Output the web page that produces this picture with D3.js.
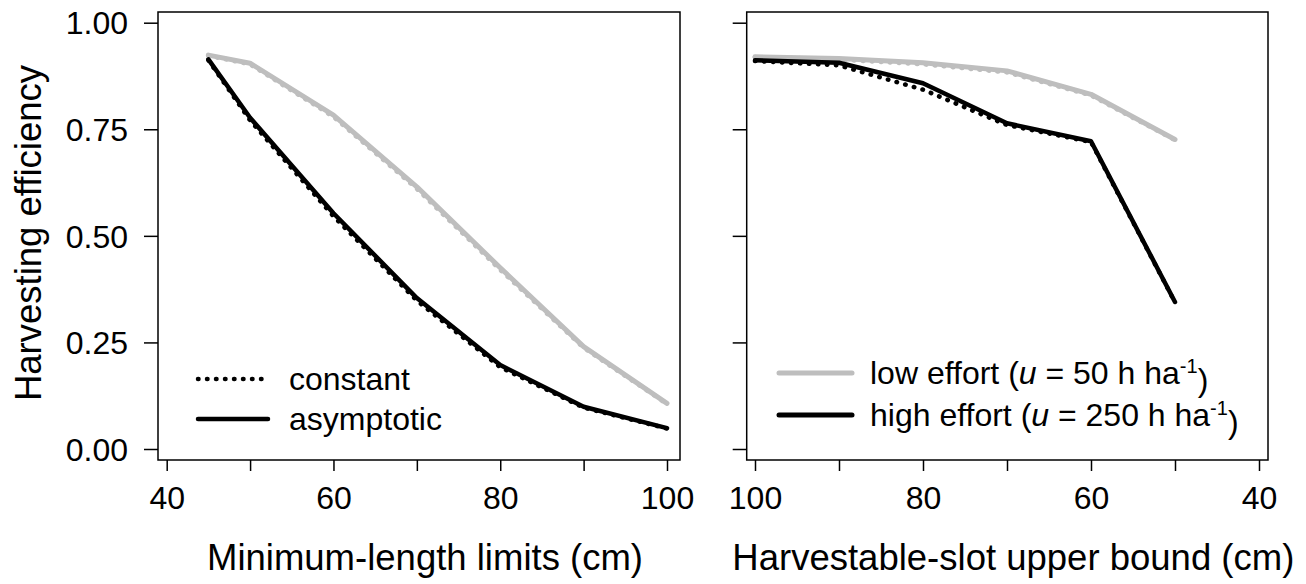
<!DOCTYPE html>
<html><head><meta charset="utf-8">
<script src="https://cdn.jsdelivr.net/npm/d3@7"></script>
<style>
html,body{margin:0;padding:0;background:#fff;}
svg{display:block;}
text{font-family:"Liberation Sans",Arial,sans-serif;fill:#000;}
</style></head>
<body>
<svg id="chart" width="1306" height="584"></svg>
<script>
// ---- data ----
const leftX = [45, 50, 60, 70, 80, 90, 100];
const leftLowAsym   = [0.924, 0.905, 0.783, 0.615, 0.425, 0.240, 0.107];
const leftLowConst  = [0.923, 0.903, 0.780, 0.611, 0.421, 0.238, 0.106];
const leftHighAsym  = [0.914, 0.777, 0.553, 0.354, 0.197, 0.099, 0.049];
const leftHighConst = [0.912, 0.771, 0.546, 0.348, 0.192, 0.097, 0.048];

const rightX = [100, 90, 80, 70, 60, 50];
const rightLowAsym   = [0.920, 0.916, 0.906, 0.887, 0.832, 0.726];
const rightLowConst  = [0.919, 0.914, 0.903, 0.884, 0.830, 0.725];
const rightHighAsym  = [0.912, 0.906, 0.858, 0.764, 0.722, 0.345];
const rightHighConst = [0.910, 0.900, 0.843, 0.760, 0.720, 0.344];

const xTicks = [40, 50, 60, 70, 80, 90, 100];
const xTickLabels = [40, 60, 80, 100];
const yTicks = [0, 0.25, 0.5, 0.75, 1.0];

const yTitle = "Harvesting efficiency";
const leftXTitle = "Minimum-length limits (cm)";
const rightXTitle = "Harvestable-slot upper bound (cm)";

// ---- layout ----
const svg = d3.select("#chart");
const GREY = "#bebebe";
const boxTop = 12, boxBottom = 460;
const y = d3.scaleLinear().domain([0, 1]).range([449, 22.7]);

const panels = [
  {box:[158, 680], x: d3.scaleLinear().domain([40,100]).range([166.7, 667]), xs: leftX,
   series: [
     {v: leftLowConst, c: GREY, dash: true}, {v: leftLowAsym, c: GREY},
     {v: leftHighConst, c: "#000", dash: true}, {v: leftHighAsym, c: "#000"}],
   title: leftXTitle, yLabels: true},
  {box:[746.7, 1268], x: d3.scaleLinear().domain([100,40]).range([755, 1259]), xs: rightX,
   series: [
     {v: rightLowConst, c: GREY, dash: true}, {v: rightLowAsym, c: GREY},
     {v: rightHighConst, c: "#000", dash: true}, {v: rightHighAsym, c: "#000"}],
   title: rightXTitle, yLabels: false}
];

panels.forEach(p => {
  const g = svg.append("g");
  const [bl, br] = p.box;
  const line = d3.line().x((d,i) => p.x(p.xs[i])).y(d => y(d));
  p.series.forEach(s => {
    g.append("path").datum(s.v).attr("d", line)
      .attr("fill", "none").attr("stroke", s.c)
      .attr("stroke-width", s.c === GREY ? 5 : 4.5)
      .attr("stroke-linecap", "round").attr("stroke-linejoin", "round")
      .attr("stroke-dasharray", s.dash ? "0.5,8.5" : null);
  });
  g.append("rect").attr("x", bl).attr("y", boxTop).attr("width", br - bl).attr("height", boxBottom - boxTop)
    .attr("fill", "none").attr("stroke", "#000").attr("stroke-width", 1.5);

  const xa = d3.axisBottom(p.x).tickValues(xTicks).tickSize(11).tickSizeOuter(0)
    .tickFormat(d => xTickLabels.includes(d) ? d : "");
  const gx = g.append("g").attr("transform", `translate(0,${boxBottom})`).call(xa);
  gx.select(".domain").remove();
  gx.selectAll(".tick line").attr("stroke", "#000").attr("stroke-width", 1.5);
  gx.selectAll(".tick text").attr("y", 38).attr("dy", "0.35em")
    .style("font-size", "32px").attr("fill", "#000");

  const ya = d3.axisLeft(y).tickValues(yTicks).tickSize(14).tickSizeOuter(0)
    .tickFormat(d => p.yLabels ? d3.format(".2f")(d) : "");
  const gy = g.append("g").attr("transform", `translate(${bl},0)`).call(ya);
  gy.select(".domain").remove();
  gy.selectAll(".tick line").attr("stroke", "#000").attr("stroke-width", 1.5);
  gy.selectAll(".tick text").attr("x", -30).attr("dy", "0.35em")
    .style("font-size", "32px").attr("fill", "#000");

  g.append("text").attr("x", (bl + br) / 2 + 6).attr("y", 557).attr("dy", "0.35em")
    .attr("text-anchor", "middle").style("font-size", "36.5px").text(p.title);
});

svg.append("text").attr("transform", "translate(41,233) rotate(-90)")
  .attr("text-anchor", "middle").style("font-size", "36.5px").text(yTitle);

// left legend
const leg1 = [
  {label: "constant", dash: true, yy: 379},
  {label: "asymptotic", dash: false, yy: 419}
];
leg1.forEach(l => {
  svg.append("line").attr("x1", 198).attr("x2", 268).attr("y1", l.yy).attr("y2", l.yy)
    .attr("stroke", "#000").attr("stroke-width", 4.5).attr("stroke-linecap", "round")
    .attr("stroke-dasharray", l.dash ? "0.5,8.5" : null);
  svg.append("text").attr("x", 289).attr("y", l.yy).attr("dy", "0.35em")
    .style("font-size", "32px").text(l.label);
});

// right legend
const leg2 = [
  {pre: "low effort (", num: " = 50 h ha", c: GREY, yy: 373},
  {pre: "high effort (", num: " = 250 h ha", c: "#000", yy: 415}
];
leg2.forEach(l => {
  svg.append("line").attr("x1", 779).attr("x2", 852).attr("y1", l.yy).attr("y2", l.yy)
    .attr("stroke", l.c).attr("stroke-width", 5).attr("stroke-linecap", "round");
  const t = svg.append("text").attr("x", 870).attr("y", l.yy).attr("dy", "0.35em")
    .style("font-size", "32px");
  t.append("tspan").text(l.pre);
  t.append("tspan").style("font-style", "italic").text("u");
  t.append("tspan").text(l.num);
  t.append("tspan").attr("dy", "-0.55em").style("font-size", "20px").text("-1");
  t.append("tspan").attr("dy", "0.55em").text(")");
});
</script>
</body></html>
